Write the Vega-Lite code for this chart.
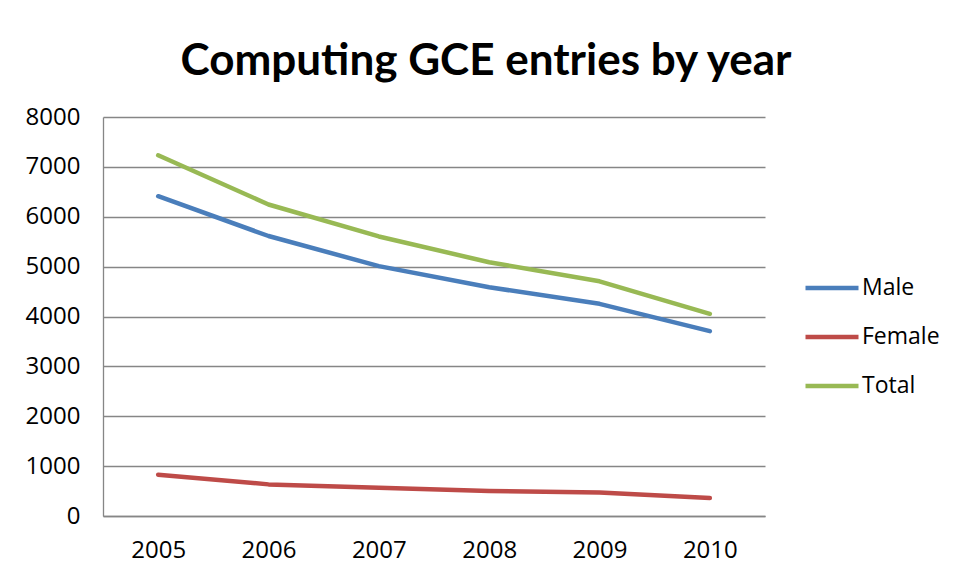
{
  "$schema": "https://vega.github.io/schema/vega-lite/v6.json",
  "width": 662,
  "height": 399,
  "autosize": {"type": "none"},
  "padding": {"left": 103, "top": 117, "right": 191, "bottom": 64},
  "background": "white",
  "title": {
    "text": "Computing GCE entries by year",
    "font": "Lato",
    "fontWeight": "bold",
    "fontSize": 44,
    "color": "#000000",
    "anchor": "middle",
    "frame": "group",
    "dx": 52,
    "baseline": "alphabetic",
    "offset": -14
  },
  "data": {
    "values": [
      {"year": "2005", "series": "Male", "entries": 6412},
      {"year": "2006", "series": "Male", "entries": 5614},
      {"year": "2007", "series": "Male", "entries": 5010},
      {"year": "2008", "series": "Male", "entries": 4586},
      {"year": "2009", "series": "Male", "entries": 4254},
      {"year": "2010", "series": "Male", "entries": 3706},
      {"year": "2005", "series": "Female", "entries": 828},
      {"year": "2006", "series": "Female", "entries": 634},
      {"year": "2007", "series": "Female", "entries": 566},
      {"year": "2008", "series": "Female", "entries": 500},
      {"year": "2009", "series": "Female", "entries": 469},
      {"year": "2010", "series": "Female", "entries": 359},
      {"year": "2005", "series": "Total", "entries": 7232},
      {"year": "2006", "series": "Total", "entries": 6246},
      {"year": "2007", "series": "Total", "entries": 5605},
      {"year": "2008", "series": "Total", "entries": 5088},
      {"year": "2009", "series": "Total", "entries": 4706},
      {"year": "2010", "series": "Total", "entries": 4054}
    ]
  },
  "mark": {"type": "line", "strokeWidth": 4.5, "strokeCap": "round", "strokeJoin": "round"},
  "encoding": {
    "x": {
      "field": "year",
      "type": "ordinal",
      "scale": {"type": "point", "padding": 0.5},
      "axis": {
        "title": null,
        "labelAngle": 0,
        "labelFont": "Open Sans",
        "labelFontSize": 24,
        "labelColor": "#000000",
        "labelPadding": 22,
        "ticks": false,
        "domainColor": "#868686",
        "domainWidth": 1.3,
        "grid": false
      }
    },
    "y": {
      "field": "entries",
      "type": "quantitative",
      "scale": {"domain": [0, 8000], "nice": false},
      "axis": {
        "title": null,
        "format": "d",
        "values": [0, 1000, 2000, 3000, 4000, 5000, 6000, 7000, 8000],
        "labelFont": "Open Sans",
        "labelFontSize": 24,
        "labelColor": "#000000",
        "labelPadding": 23,
        "ticks": false,
        "domainColor": "#868686",
        "domainWidth": 1.3,
        "gridColor": "#868686",
        "gridWidth": 1.3
      }
    },
    "color": {
      "field": "series",
      "type": "nominal",
      "scale": {"domain": ["Male", "Female", "Total"], "range": ["#4A7EBB", "#BE4B48", "#98B954"]},
      "legend": {
        "title": null,
        "orient": "none",
        "legendX": 700,
        "legendY": 142,
        "symbolType": "stroke",
        "symbolSize": 2809,
        "symbolStrokeWidth": 4.5,
        "labelFont": "Open Sans",
        "labelFontSize": 23,
        "labelColor": "#000000",
        "labelOffset": 1,
        "rowPadding": 8
      }
    }
  },
  "config": {
    "view": {"stroke": null}
  }
}
